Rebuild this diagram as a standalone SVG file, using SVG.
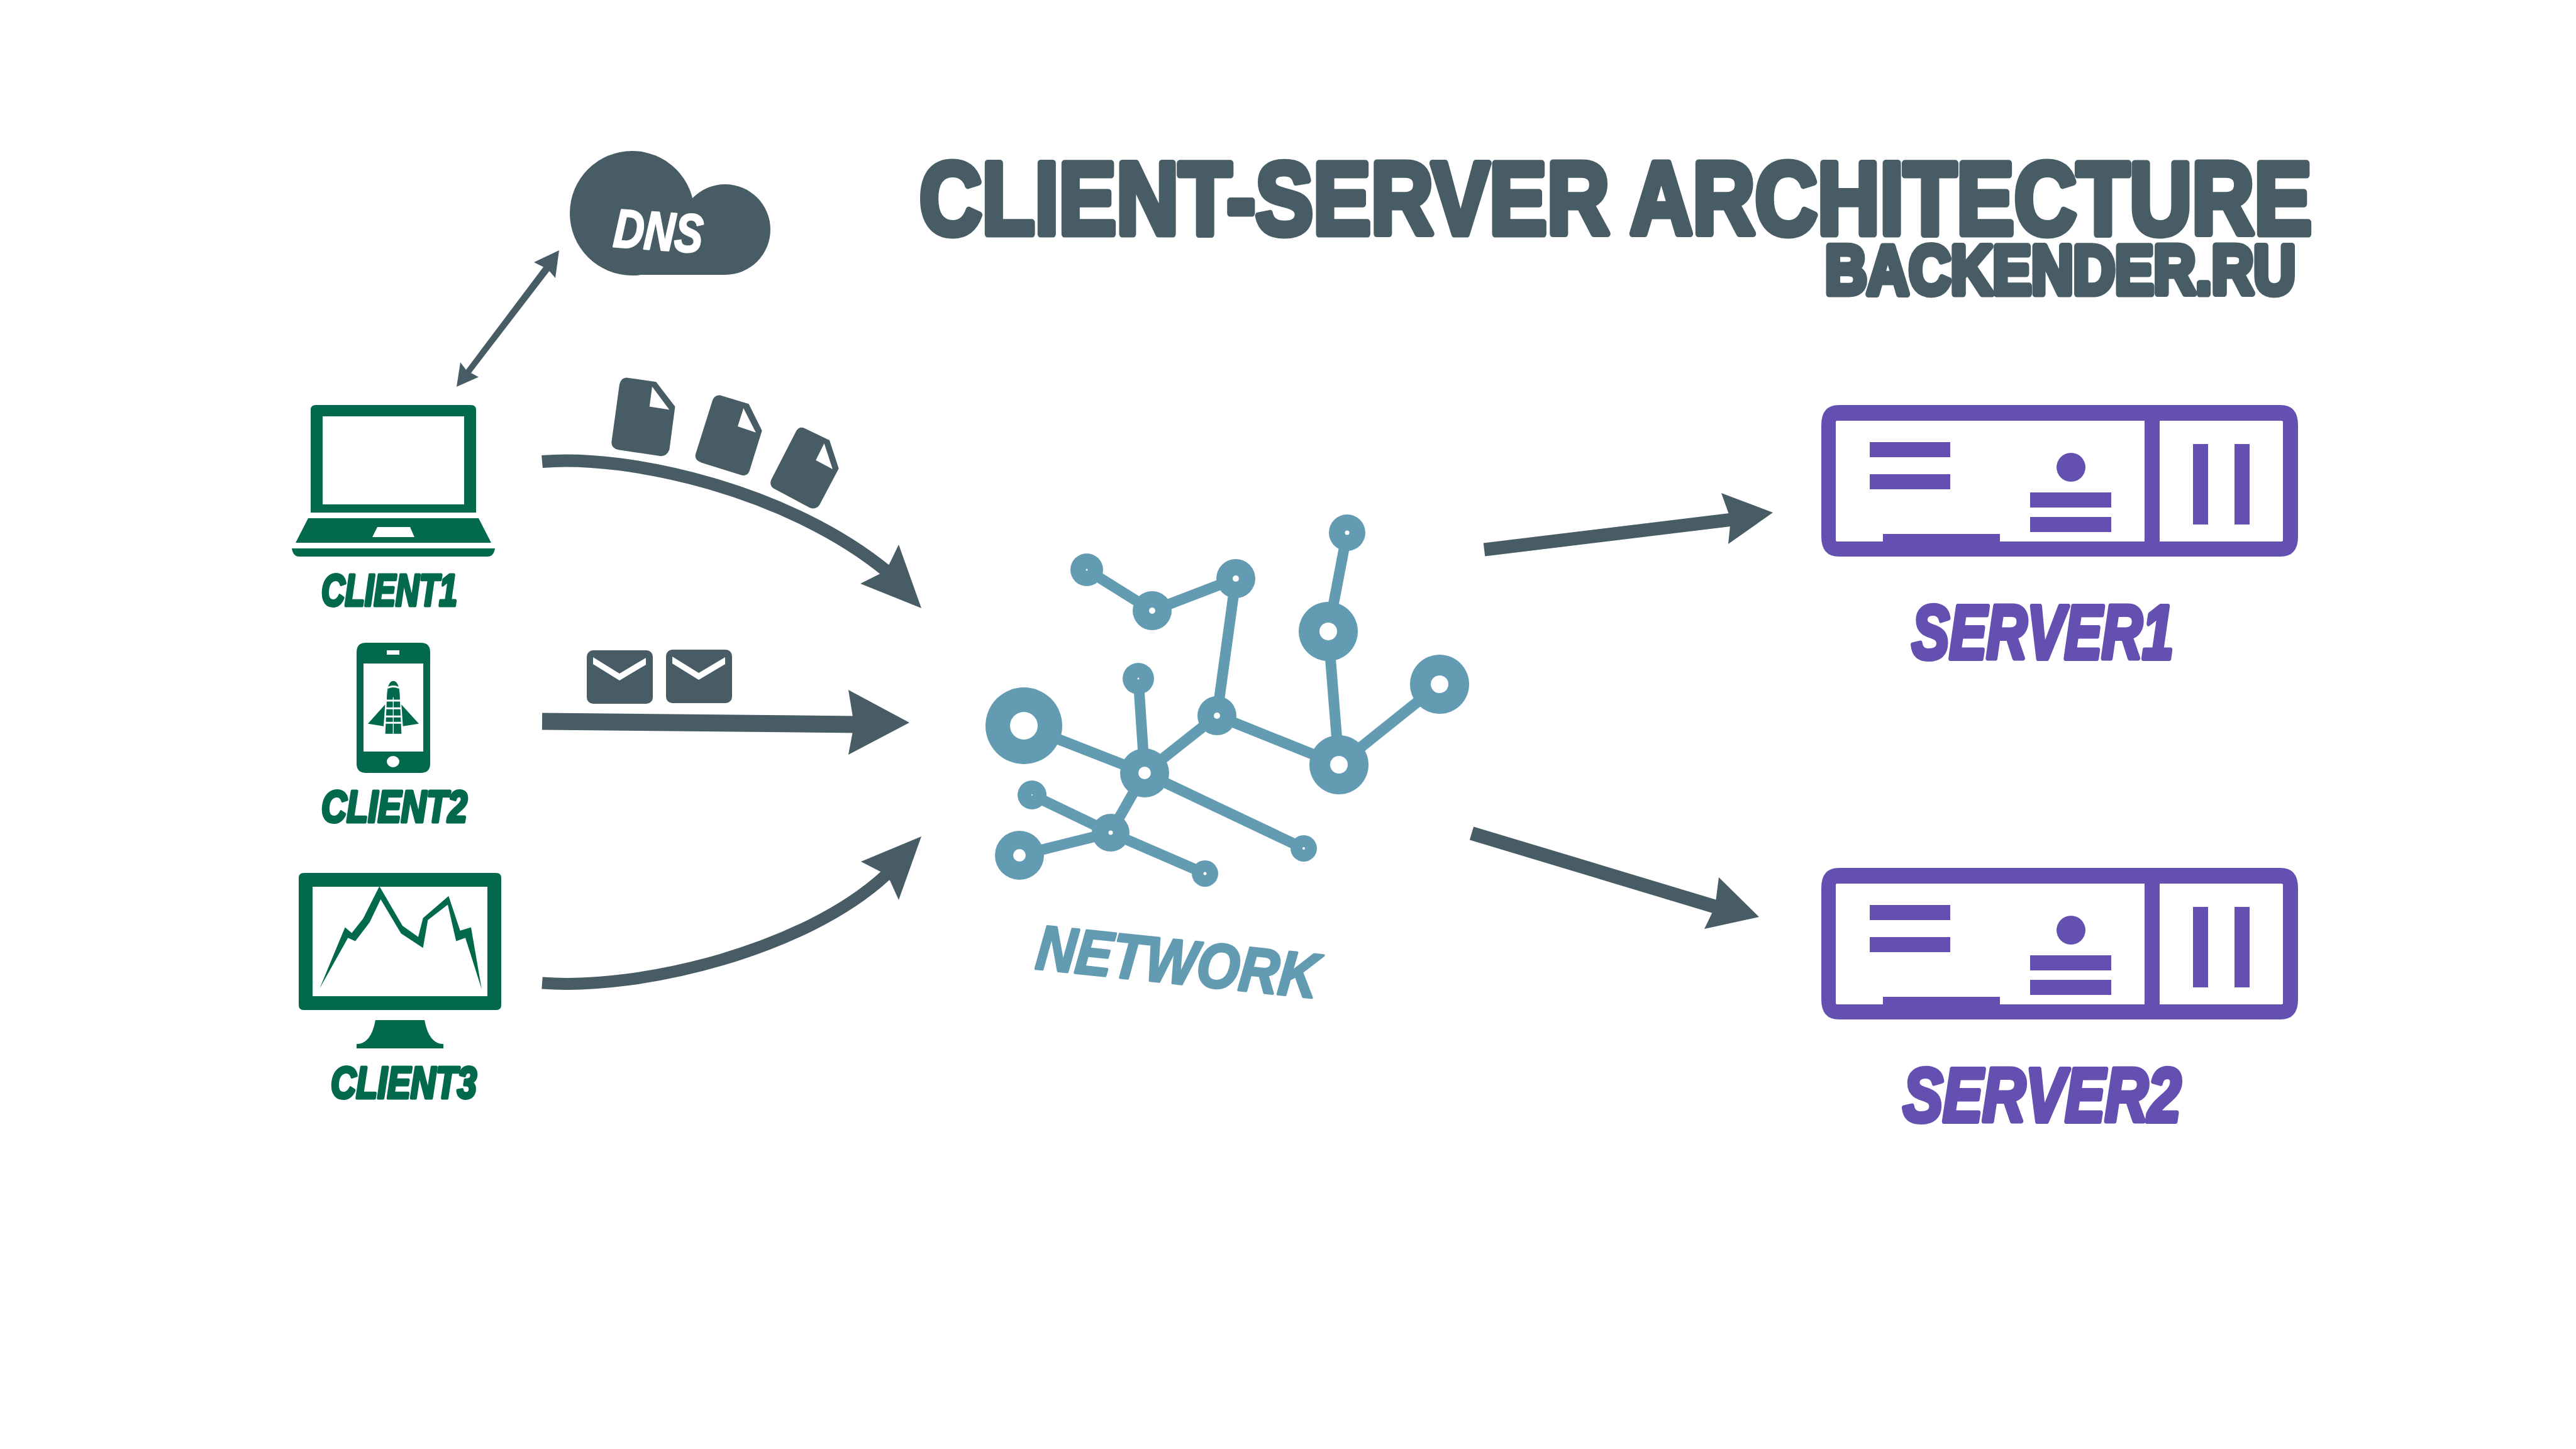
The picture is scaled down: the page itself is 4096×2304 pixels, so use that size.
<svg xmlns="http://www.w3.org/2000/svg" xmlns:xlink="http://www.w3.org/1999/xlink" width="4096" height="2304" viewBox="0 0 4096 2304">
<style>
text{font-family:"Liberation Sans",Arial,sans-serif;font-weight:700;stroke-linejoin:round}
.slate{fill:#475c65}.green{fill:#02694d}.purple{fill:#6450b1}.teal{fill:#639bb2}.white{fill:#fff}
.title{fill:#475c65;stroke:#475c65;stroke-width:11}
.client{fill:#02694d;stroke:#02694d;stroke-width:5;font-style:italic;font-size:70px}
.server{fill:#6450b1;stroke:#6450b1;stroke-width:8;font-style:italic;font-size:120px}
.net{fill:#639bb2;stroke:#639bb2;stroke-width:4;font-style:italic;font-size:100px}
.shaft{fill:none;stroke:#475c65}
.edge{stroke:#639bb2;stroke-width:17;fill:none}
</style>
<defs>
<g id="serverIcon">
<path class="purple" fill-rule="evenodd" d="M2924 644H3626Q3654 644 3654 676V853Q3654 885 3626 885H2924Q2896 885 2896 853V676Q2896 644 2924 644ZM2921 669Q2919 669 2919 671V859Q2919 861 2921 861H3628Q3630 861 3630 859V671Q3630 669 3628 669Z"/>
<rect class="purple" x="3410" y="660" width="24" height="210"/>
<rect class="purple" x="2973" y="703" width="128" height="24"/>
<rect class="purple" x="2973" y="754" width="128" height="24"/>
<ellipse class="purple" cx="3293" cy="743" rx="23" ry="23"/>
<rect class="purple" x="3228" y="783" width="129" height="24"/>
<rect class="purple" x="3228" y="822" width="129" height="24"/>
<rect class="purple" x="3487" y="706" width="24" height="128"/>
<rect class="purple" x="3553" y="706" width="24" height="128"/>
<rect class="purple" x="2994" y="849" width="186" height="14"/>
</g>
<g id="envelope">
<rect class="slate" x="0" y="0" width="105" height="85" rx="10"/>
<polygon class="white" points="10,11 52,37 94,12 94,23 52,48 10,22"/>
</g>
</defs>
<rect width="4096" height="2304" fill="#fff"/>

<g id="title">
<text class="title" x="1462" y="372" font-size="163" textLength="2214" lengthAdjust="spacingAndGlyphs">CLIENT-SERVER ARCHITECTURE</text>
<text class="title" x="2902" y="467" font-size="110" textLength="748" lengthAdjust="spacingAndGlyphs">BACKENDER.RU</text>
</g>

<g id="dns">
<circle class="slate" cx="1005" cy="339" r="99"/>
<circle class="slate" cx="1153" cy="365" r="72"/>
<rect class="slate" x="1005" y="340" width="149" height="97"/>
<text class="white" x="974" y="392" font-size="86" font-style="italic" textLength="142" lengthAdjust="spacingAndGlyphs" stroke="#fff" stroke-width="3" transform="rotate(4 974 392)">DNS</text>
</g>

<g id="client1">
<path class="green" fill-rule="evenodd" d="M502 644H749Q757 644 757 652V815H494V652Q494 644 502 644ZM513 662V802H738V662Z"/>
<path class="green" fill-rule="evenodd" d="M490 824H761L781 863H470ZM600 838L592 854H659L652 838Z"/>
<path class="green" d="M464 872H787Q785 885 775 885H476Q466 885 464 872Z"/>
<text class="client" x="511" y="963" textLength="216" lengthAdjust="spacingAndGlyphs">CLIENT1</text>
</g>

<g id="client2">
<path class="green" fill-rule="evenodd" d="M582 1022H669Q684 1022 684 1037V1214Q684 1229 669 1229H582Q567 1229 567 1214V1037Q567 1022 582 1022ZM578 1055V1195H673V1055ZM615 1034V1041H635V1034ZM625 1202A10 9 0 1 0 625 1220A10 9 0 1 0 625 1202Z"/>
<g transform="translate(420,600) scale(.3333,.765)">
<path class="green" d="M585 672Q585 631 616 631Q648 631 648 672L655 741H578Z"/>
<path class="green" d="M495 720L577 680L570 725ZM738 720L655 680L662 725Z"/>
<path fill="none" stroke="#fff" stroke-width="4" d="M590 645Q616 640 642 645M580 672H652M578 688H654M576 705H656M574 718H658M616 665V741"/>
</g>
<text class="client" x="511" y="1307" textLength="232" lengthAdjust="spacingAndGlyphs">CLIENT2</text>
</g>

<g id="client3">
<path class="green" fill-rule="evenodd" d="M483 1388H789Q797 1388 797 1396V1598Q797 1606 789 1606H483Q475 1606 475 1598V1396Q475 1388 483 1388ZM497 1410V1584H775V1410Z"/>
<polygon class="green" transform="translate(420,600) scale(.3333,.765)" points="265,1270 386,1143 418,1155 472,1125 550,1058 660,1140 735,1163 758,1124 880,1078 935,1150 987,1143 1038,1272 960,1165 916,1172 876,1096 781,1128 758,1186 653,1156 556,1085 503,1133 435,1172 400,1165"/>
<path class="green" d="M597 1622H675Q682 1660 705 1660V1667H567V1660Q590 1660 597 1622Z"/>
<text class="client" x="526" y="1746" textLength="232" lengthAdjust="spacingAndGlyphs">CLIENT3</text>
</g>

<g id="files" transform="translate(400,200) scale(.7015,.5102)">
<path class="slate" fill-rule="evenodd" d="M850 785L917 798L960 875L947 1010Q940 1032 925 1029L832 1010Q815 1005 816 985L834 805Q838 785 850 785ZM908 813L902 875L947 885Z"/>
<path class="slate" fill-rule="evenodd" d="M1062 840L1127 867L1157 950L1128 1078Q1122 1094 1108 1088L1020 1050Q1004 1042 1006 1025L1045 855Q1050 838 1062 840ZM1115 880L1102 937L1143 956Z"/>
<path class="slate" fill-rule="evenodd" d="M1252 942L1310 980L1331 1068L1288 1180Q1280 1198 1265 1190L1183 1130Q1172 1118 1179 1100L1235 950Q1242 936 1252 942ZM1298 990L1279 1042L1317 1070Z"/>
</g>

<g id="envelopes">
<use href="#envelope" xlink:href="#envelope" transform="translate(933,1034)"/>
<use href="#envelope" xlink:href="#envelope" transform="translate(1059,1033)"/>
</g>

<g id="network">
<g class="edges">
<line class="edge" x1="1628" y1="1154" x2="1820" y2="1229"/>
<line class="edge" x1="1820" y1="1229" x2="1810" y2="1079"/>
<line class="edge" x1="1820" y1="1229" x2="1935" y2="1138"/>
<line class="edge" x1="1935" y1="1138" x2="1965" y2="920"/>
<line class="edge" x1="1965" y1="920" x2="1832" y2="971"/>
<line class="edge" x1="1832" y1="971" x2="1728" y2="906"/>
<line class="edge" x1="1935" y1="1138" x2="2129" y2="1216"/>
<line class="edge" x1="2129" y1="1216" x2="2112" y2="1004"/>
<line class="edge" x1="2112" y1="1004" x2="2142" y2="847"/>
<line class="edge" x1="2129" y1="1216" x2="2289" y2="1088"/>
<line class="edge" x1="1820" y1="1229" x2="2073" y2="1349"/>
<line class="edge" x1="1820" y1="1229" x2="1766" y2="1324"/>
<line class="edge" x1="1641" y1="1264" x2="1766" y2="1324"/>
<line class="edge" x1="1766" y1="1324" x2="1621" y2="1360"/>
<line class="edge" x1="1766" y1="1324" x2="1916" y2="1389"/>
</g>
<g fill="#639bb2">
<circle cx="1628" cy="1154" r="61"/><circle cx="1820" cy="1229" r="39"/><circle cx="1810" cy="1079" r="25"/><circle cx="1935" cy="1138" r="31"/><circle cx="2129" cy="1216" r="47"/><circle cx="2289" cy="1088" r="47"/><circle cx="2112" cy="1004" r="47"/><circle cx="2142" cy="847" r="29"/><circle cx="1965" cy="920" r="31"/><circle cx="1832" cy="971" r="31"/><circle cx="1728" cy="906" r="26"/><circle cx="1641" cy="1264" r="23"/><circle cx="1621" cy="1360" r="39"/><circle cx="1766" cy="1324" r="30"/><circle cx="1916" cy="1389" r="21"/><circle cx="2073" cy="1349" r="21"/>
</g>
<g fill="#fff">
<circle cx="1628" cy="1154" r="22"/><circle cx="1820" cy="1229" r="10"/><circle cx="1810" cy="1079" r="1.5"/><circle cx="1935" cy="1138" r="5"/><circle cx="2129" cy="1216" r="14"/><circle cx="2289" cy="1088" r="14"/><circle cx="2112" cy="1004" r="14"/><circle cx="2142" cy="847" r="3.5"/><circle cx="1965" cy="920" r="5"/><circle cx="1832" cy="971" r="5"/><circle cx="1728" cy="906" r="1.5"/><circle cx="1641" cy="1264" r="1"/><circle cx="1621" cy="1360" r="10"/><circle cx="1766" cy="1324" r="3.5"/><circle cx="1916" cy="1389" r="2.5"/><circle cx="2073" cy="1349" r="2"/>
</g>
<text class="net" x="1645" y="1540" textLength="450" lengthAdjust="spacingAndGlyphs" transform="rotate(6 1645 1540)">NETWORK</text>
</g>

<g id="server1">
<use href="#serverIcon" xlink:href="#serverIcon"/>
<text class="server" x="3040" y="1047" textLength="416" lengthAdjust="spacingAndGlyphs">SERVER1</text>
</g>
<g id="server2">
<use href="#serverIcon" xlink:href="#serverIcon" transform="translate(0,736)"/>
<text class="server" x="3026" y="1783" textLength="442" lengthAdjust="spacingAndGlyphs">SERVER2</text>
</g>

<g id="connectors">
<polygon class="slate" points="889,398 883,442 873.5,431 749,593 761,599.5 726,615 732,576 741,588 864,424.5 849,417"/>
<path class="shaft" stroke-width="20" d="M862 734C1000 722 1255 780 1412 910"/>
<polygon class="slate" points="1429,866 1465,967 1368,928 1400,912 1414,897"/>
<line class="shaft" stroke-width="27" x1="862" y1="1147" x2="1362" y2="1152"/>
<polygon class="slate" points="1349,1097 1446,1149 1349,1200 1358,1152"/>
<path class="shaft" stroke-width="19" d="M862 1563C1020 1575 1280 1510 1408 1392"/>
<polygon class="slate" points="1465,1330 1429,1431 1415,1400 1400,1386 1369,1370"/>
<line class="shaft" stroke-width="21" x1="2360" y1="874" x2="2755" y2="826"/>
<polygon class="slate" points="2737,784 2819,815 2748,865 2752,826"/>
<line class="shaft" stroke-width="22" x1="2340" y1="1325" x2="2735" y2="1444"/>
<polygon class="slate" points="2733,1395 2797,1458 2710,1477 2727,1442"/>
</g>
</svg>
